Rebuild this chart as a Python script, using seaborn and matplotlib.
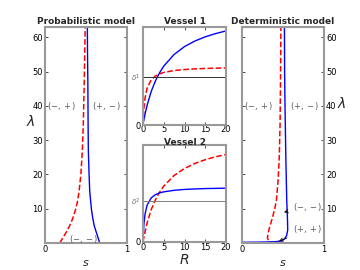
import matplotlib
matplotlib.use("Agg")
import matplotlib.pyplot as plt
import seaborn as sns
import pandas as pd

# probabilistic model: switching curves (s, lambda)
prob_red_s = [0.18, 0.205, 0.23, 0.255, 0.278, 0.30, 0.318, 0.335, 0.35, 0.363, 0.375,
              0.395, 0.415, 0.437, 0.455, 0.467, 0.478, 0.49]
prob_red_lam = [0, 1, 2, 3, 4, 5, 6, 7, 8, 9, 10, 12, 15, 20, 27, 35, 47, 63]
prob_blue_s = [0.667, 0.64, 0.60, 0.58, 0.565, 0.545, 0.537, 0.528, 0.525, 0.522, 0.518, 0.516]
prob_blue_lam = [0, 2, 5, 7.5, 10, 15, 20, 27, 35, 47, 55, 63]

# deterministic model
det_red_s = [1.0, 0.6, 0.4, 0.33, 0.31, 0.33, 0.355, 0.375, 0.40, 0.42, 0.44, 0.455, 0.465, 0.47, 0.475]
det_red_lam = [0.05, 0.05, 0.1, 0.4, 1.5, 4, 6, 7.7, 10, 12.5, 18, 25, 35, 47, 63]
det_blue_s = [0.0, 0.2, 0.4, 0.48, 0.52, 0.545, 0.558, 0.555, 0.546, 0.535, 0.525, 0.52, 0.518]
det_blue_lam = [0.2, 0.25, 0.35, 0.6, 1.2, 2.2, 3.8, 7, 12.5, 25, 40, 50, 63]

# vessels
R = [0, 0.25, 0.5, 1, 2, 3, 4, 5, 7.5, 10, 12.5, 15, 17.5, 20]
v1_blue = [0, 0.057, 0.109, 0.2, 0.343, 0.45, 0.533, 0.6, 0.72, 0.8, 0.857, 0.9, 0.933, 0.96]
v1_red = [0, 0.176, 0.273, 0.375, 0.462, 0.5, 0.522, 0.536, 0.556, 0.566, 0.573, 0.577, 0.58, 0.583]
v2_blue = [0, 0.19, 0.285, 0.38, 0.456, 0.489, 0.507, 0.518, 0.534, 0.543, 0.548, 0.552, 0.554, 0.556]
v2_red = [0, 0.05, 0.1, 0.196, 0.334, 0.436, 0.514, 0.577, 0.687, 0.76, 0.812, 0.851, 0.881, 0.905]
delta1 = 0.49
delta2 = 0.42

sns.set_theme(style="ticks")
plt.rcParams['font.family'] = ['DejaVu Sans']
plt.rcParams['mathtext.fontset'] = 'dejavusans'

fig = plt.figure(figsize=(3.6, 2.7), dpi=100)
ax_p = fig.add_axes([0.125, 0.1, 0.228, 0.8])
ax_v1 = fig.add_axes([0.397, 0.537, 0.231, 0.363])
ax_v2 = fig.add_axes([0.397, 0.104, 0.231, 0.358])
ax_d = fig.add_axes([0.672, 0.1, 0.228, 0.8])

red_kw = dict(color='red', linewidth=1.1, dashes=(3, 2))
blue_kw = dict(color='blue', linewidth=1.0)


def style(ax):
    for sp in ax.spines.values():
        sp.set_color('#999999')
        sp.set_linewidth(1.5)
    ax.tick_params(direction='in', length=2, width=0.5, labelsize=6, pad=1.5,
                   top=True, right=True, colors='black')


def line(ax, x, y, **kw):
    df = pd.DataFrame({'x': x, 'y': y})
    sns.lineplot(data=df, x='x', y='y', sort=False, estimator=None, ax=ax, **kw)


# probabilistic
line(ax_p, prob_red_s, prob_red_lam, linestyle='--', **red_kw)
line(ax_p, prob_blue_s, prob_blue_lam, **blue_kw)
ax_p.set_xlim(0, 1)
ax_p.set_ylim(0, 63)
ax_p.set_xticks([0, 1])
ax_p.set_yticks([10, 20, 30, 40, 50, 60])
ax_p.set_xlabel('$s$', fontsize=8, labelpad=3)
ax_p.set_ylabel(r'$\lambda$', fontsize=10, rotation=0, labelpad=6)
ax_p.yaxis.set_label_coords(-0.17, 0.53)
ax_p.set_title('Probabilistic model', fontsize=6.5, fontweight='bold', pad=2)
gray_txt = dict(fontsize=6, color='0.35', ha='center', va='center')
ax_p.text(0.2, 40, '$(-,+)$', **gray_txt)
ax_p.text(0.75, 40, '$(+,-)$', **gray_txt)
ax_p.text(0.47, 1.3, '$(-,-)$', **gray_txt)
style(ax_p)

# vessel 1
line(ax_v1, R, v1_red, linestyle='--', **red_kw)
line(ax_v1, R, v1_blue, **blue_kw)
ax_v1.axhline(delta1, color='0.2', linewidth=0.7)
ax_v1.set_xlim(0, 20)
ax_v1.set_ylim(0, 1)
ax_v1.set_xticks([0, 5, 10, 15, 20])
ax_v1.set_yticks([0, delta1])
ax_v1.set_yticklabels(['0', r'$\delta^1$'])
ax_v1.set_xlabel('')
ax_v1.set_ylabel('')
ax_v1.set_title('Vessel 1', fontsize=6.5, fontweight='bold', pad=2)
style(ax_v1)
ax_v1.tick_params(axis='x', pad=0.3)
ax_v1.get_yticklabels()[1].set_fontsize(5)
ax_v1.get_yticklabels()[1].set_color('0.4')

# vessel 2
line(ax_v2, R, v2_red, linestyle='--', **red_kw)
line(ax_v2, R, v2_blue, **blue_kw)
ax_v2.axhline(delta2, color='0.5', linewidth=0.7)
ax_v2.set_xlim(0, 20)
ax_v2.set_ylim(0, 1)
ax_v2.set_xticks([0, 5, 10, 15, 20])
ax_v2.set_yticks([0, delta2])
ax_v2.set_yticklabels(['0', r'$\delta^2$'])
ax_v2.set_xlabel('$R$', fontsize=10, labelpad=1)
ax_v2.set_ylabel('')
ax_v2.set_title('Vessel 2', fontsize=6.5, fontweight='bold', pad=0.5)
style(ax_v2)
ax_v2.tick_params(axis='x', pad=0.5)
ax_v2.get_yticklabels()[1].set_fontsize(5)
ax_v2.get_yticklabels()[1].set_color('0.4')

# deterministic
line(ax_d, det_red_s, det_red_lam, linestyle='--', **red_kw)
line(ax_d, det_blue_s, det_blue_lam, **blue_kw)
ax_d.set_xlim(0, 1)
ax_d.set_ylim(0, 63)
ax_d.set_xticks([0, 1])
ax_d.set_yticks([10, 20, 30, 40, 50, 60])
ax_d.yaxis.tick_right()
ax_d.yaxis.set_label_position('right')
ax_d.set_xlabel('$s$', fontsize=8, labelpad=3)
ax_d.set_ylabel(r'$\lambda$', fontsize=10, rotation=0, labelpad=6)
ax_d.yaxis.set_label_coords(1.21, 0.68)
ax_d.set_title('Deterministic model', fontsize=6.5, fontweight='bold', pad=2)
ax_d.text(0.2, 40, '$(-,+)$', **gray_txt)
ax_d.text(0.77, 40, '$(+,-)$', **gray_txt)
arrow = dict(arrowstyle='->', color='black', linewidth=0.6)
ax_d.annotate('$(-,-)$', xy=(0.48, 8.8), xytext=(0.8, 10.6), fontsize=6, color='0.35',
              ha='center', va='center', arrowprops=arrow)
ax_d.annotate('$(+,+)$', xy=(0.42, 0.2), xytext=(0.8, 4), fontsize=6, color='0.35',
              ha='center', va='center', arrowprops=arrow)
style(ax_d)
ax_d.tick_params(labelleft=False, labelright=True, left=True)

fig.savefig('out.png', dpi=100)
